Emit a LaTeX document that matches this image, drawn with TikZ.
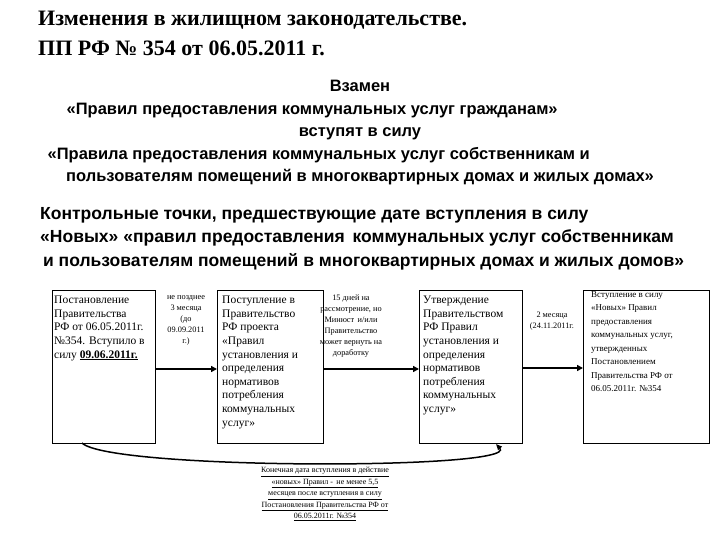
\documentclass[tikz,border=0pt]{standalone}
\usepackage{fontspec}
\setmainfont{Liberation Serif}
\setsansfont{Liberation Sans}
\usetikzlibrary{arrows.meta}
\begin{document}
\begin{tikzpicture}[x=1pt,y=-1pt,
  box/.style={draw,line width=0.8pt,anchor=north west,inner sep=0pt},
  btxt/.style={anchor=north west,align=left,font=\fontsize{11.5}{13.6}\selectfont,inner sep=0pt},
  mid/.style={align=center,font=\fontsize{8.3}{11}\selectfont,inner sep=0pt,anchor=north},
  arr/.style={line width=1.8pt,-{Triangle[length=6pt,width=6pt]}},
  hd/.style={font=\sffamily\bfseries\fontsize{16.5}{22.5}\selectfont,align=center,inner sep=0pt}]
\useasboundingbox (0,0) rectangle (720,540);
\node[anchor=west,font=\bfseries\fontsize{22}{30}\selectfont,align=left,inner sep=0pt] (title) at (38,33) {Изменения в жилищном законодательстве.\\ПП РФ № 354 от 06.05.2011 г.};
\node[hd] (h1) at (360,133) {Взамен\\\hspace*{-5.8em}«Правил предоставления коммунальных услуг гражданам»\\вступят в силу\\\hspace*{-5em}«Правила предоставления коммунальных услуг собственникам и\\пользователям помещений в многоквартирных домах и жилых домах»};
\node[hd,anchor=north west,align=left,font=\sffamily\bfseries\fontsize{17.5}{23.5}\selectfont] (h2) at (40,207) {Контрольные точки, предшествующие дате вступления в силу\\ «Новых» «правил предоставления \,коммунальных услуг собственникам\\ \,и пользователям помещений в многоквартирных домах и жилых домов»};
\draw[line width=0.8pt] (52,290) rectangle (155,443);
\draw[line width=0.8pt] (217,290) rectangle (323,443);
\draw[line width=0.8pt] (419,290) rectangle (522,443);
\draw[line width=0.8pt] (583,290) rectangle (709,443);
\node[btxt] (t1) at (54,296) {Постановление\\Правительства\\РФ от 06.05.2011г.\\№354. Вступило в\\силу \textbf{\underline{09.06.2011г.}}};
\node[btxt] (t2) at (222,296) {Поступление в\\Правительство\\РФ проекта\\«Правил\\установления и\\определения\\нормативов\\потребления\\коммунальных\\услуг»};
\node[btxt] (t3) at (423,296) {Утверждение\\Правительством\\РФ Правил\\установления и\\определения\\нормативов\\потребления\\коммунальных\\услуг»};
\node[btxt,font=\fontsize{9}{13.5}\selectfont] (t4) at (591,291) {Вступление в силу\\«Новых» Правил\\предоставления\\коммунальных услуг,\\утвержденных\\Постановлением\\Правительства РФ от\\06.05.2011г. №354};
\node[mid] (m1) at (186,295) {не позднее\\3 месяца\\(до\\09.09.2011\\г.)};
\node[mid] (m2) at (351,295) {15 дней на\\рассмотрение, но\\Минюст \,и/или\\Правительство\\может вернуть на\\доработку};
\node[mid] (m3) at (552,312) {2 месяца\\(24.11.2011г.};
\coordinate (a1) at (155,369); \coordinate (b1) at (217,369);
\coordinate (a2) at (323,369); \coordinate (b2) at (419,369);
\coordinate (a3) at (522,368); \coordinate (b3) at (583,368);
\draw[arr] (a1) -- (b1);
\draw[arr] (a2) -- (b2);
\draw[arr] (a3) -- (b3);
\coordinate (c0) at (82,443); \coordinate (c1) at (496,444);
\draw[line width=1.5pt,-{Triangle[length=6pt,width=5pt]}] (c0) .. controls (110,470) and (520,470) .. (c1);
\node[mid,font=\fontsize{8}{11.5}\selectfont,anchor=north] (note) at (325,467) {\underline{Конечная дата вступления в действие}\\\underline{«новых» Правил - \,не менее 5,5}\\\underline{месяцев после вступления в силу}\\\underline{Постановления Правительства РФ от}\\\underline{06.05.2011г. №354}};
\end{tikzpicture}
\end{document}
